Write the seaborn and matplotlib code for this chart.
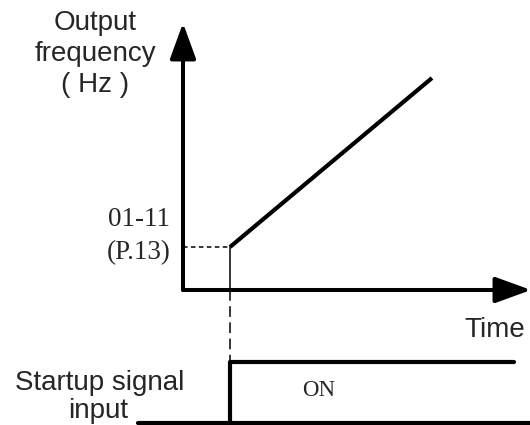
"""
Startup timing diagram: output frequency vs. time with the start signal
"""

import matplotlib
matplotlib.use('Agg')
import matplotlib.pyplot as plt
import seaborn as sns

# Units: time / frequency measured from the origin of the frequency axes
# (signal levels sit below the time axis in the same frame)
x_min, x_max = -183, 347
y_min, y_max = -135, 290

axis_tip_time = 347
axis_tip_freq = 267

start_time = 47          # moment the startup signal goes ON
start_freq = 43          # 01-11 (P.13) starting frequency
ramp_time = [start_time, 249]
ramp_freq = [start_freq, 212]

signal_off = -133
signal_on = -72
signal_base_time = [-45, axis_tip_time]
signal_step_time = [start_time, start_time, 331]
signal_step_level = [signal_off, signal_on, signal_on]

freq_label = ['Output', 'frequency', '( Hz )']
start_label = ['01-11', '(P.13)']
signal_label = ['Startup signal', 'input']

sns.set_style('white')
plt.rcParams['font.family'] = ['Liberation Sans', 'DejaVu Sans']

fig = plt.figure(figsize=(5.3, 4.25), dpi=100)
ax = fig.add_axes([0, 0, 1, 1])
ax.set_xlim(x_min, x_max)
ax.set_ylim(y_min, y_max)
ax.axis('off')

# axes with arrow heads
arrow = dict(arrowstyle='-|>,head_length=22,head_width=8', mutation_scale=1,
             lw=2.9, color='black', shrinkA=0, shrinkB=0)
ax.annotate('', xy=(0, axis_tip_freq), xytext=(0, 0), arrowprops=arrow,
            annotation_clip=False)
ax.annotate('', xy=(axis_tip_time + 1, 0), xytext=(0, 0), arrowprops=arrow,
            annotation_clip=False)

# frequency ramp
sns.lineplot(x=ramp_time, y=ramp_freq, ax=ax, color='black', lw=3,
             estimator=None, sort=False, solid_capstyle='butt')

# guide lines at the start point
sns.lineplot(x=[0, start_time], y=[start_freq, start_freq], ax=ax, color='black',
             lw=1.1, linestyle=(0, (3, 2.2)), estimator=None, sort=False)
sns.lineplot(x=[start_time, start_time], y=[start_freq, 0], ax=ax, color='black',
             lw=1.1, estimator=None, sort=False)
sns.lineplot(x=[start_time, start_time], y=[0, signal_on], ax=ax, color='black',
             lw=1.1, linestyle=(0, (7, 3.6)), estimator=None, sort=False)

# startup signal
sns.lineplot(x=signal_base_time, y=[signal_off, signal_off], ax=ax, color='black',
             lw=3, estimator=None, sort=False)
sns.lineplot(x=signal_step_time, y=signal_step_level, ax=ax, color='black',
             lw=3, estimator=None, sort=False)

# labels
for i, txt in enumerate(freq_label):
    ax.text(-88, 267 - i * 31, txt, ha='center', va='center', fontsize=20)
ax.text(312, -47, 'Time', ha='center', va='baseline', fontsize=20)
ax.text(-83, -100, signal_label[0], ha='center', va='baseline', fontsize=20)
ax.text(-85, -128, signal_label[1], ha='center', va='baseline', fontsize=20)

ax.text(-44, 71, start_label[0], ha='center', va='center', fontsize=19.5,
        family=['Liberation Serif', 'DejaVu Serif'])
ax.text(-44, 37, start_label[1], ha='center', va='center', fontsize=19.5,
        family=['Liberation Serif', 'DejaVu Serif'])
ax.text(136, -101, 'ON', ha='center', va='center', fontsize=16.5,
        family=['Liberation Serif', 'DejaVu Serif'])

plt.savefig('out.png', dpi=100)
